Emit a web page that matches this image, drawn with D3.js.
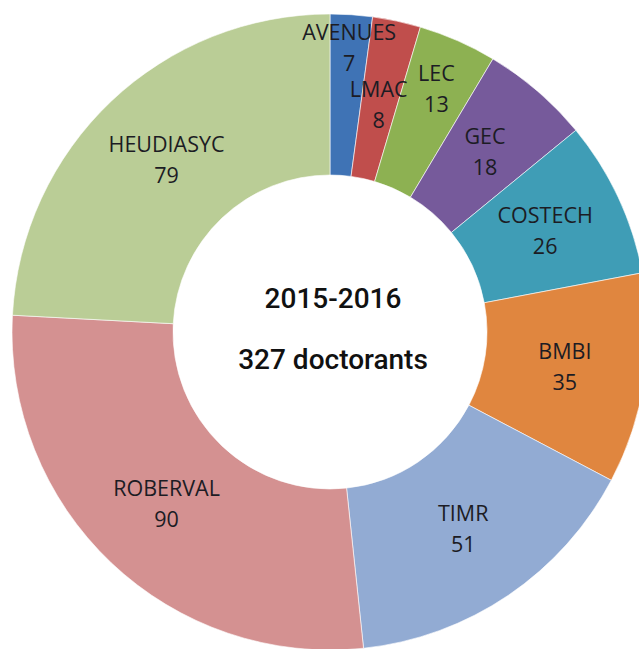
<!DOCTYPE html>
<html>
<head>
<meta charset="utf-8">
<script src="https://cdn.jsdelivr.net/npm/d3@7"></script>
<style>
  html, body { margin: 0; padding: 0; background: #fff; }
  svg { display: block; }
</style>
</head>
<body>
<div id="main"></div>
<script>
// data
const labs = ['AVENUES', 'LMAC', 'LEC', 'GEC', 'COSTECH', 'BMBI', 'TIMR', 'ROBERVAL', 'HEUDIASYC'];
const doctorants = [7, 8, 13, 18, 26, 35, 51, 90, 79];
const sliceColors = ['#3f73b5', '#c04e4c', '#8db152', '#765a9b', '#3f9db6', '#e0863f', '#92abd3', '#d49191', '#bacd96'];
const title = '2015-2016';
const subtitle = '327 doctorants';

// layout
const WIDTH = 639;
const HEIGHT = 649;
const CX = 330;
const CY = 332;
const OUTER = 318;
const INNER = 157;

// small slices get their label pushed out a bit (like excel does)
const labelRadius = { AVENUES: 285, LEC: 265, LMAC: 232 };

const svg = d3
  .select('div#main')
  .append('svg')
  .attr('width', WIDTH)
  .attr('height', HEIGHT);

const g = svg.append('g').attr('transform', `translate(${CX},${CY})`);

const records = labs.map((lab, i) => ({ lab, value: doctorants[i], color: sliceColors[i] }));

const pie = d3.pie().sort(null).value((d) => d.value);
const arc = d3.arc().innerRadius(INNER).outerRadius(OUTER);
const arcs = pie(records);

g.selectAll('.slice')
  .data(arcs)
  .enter()
  .append('path')
  .attr('class', 'slice')
  .attr('d', arc)
  .attr('fill', (d) => d.data.color)
  .attr('stroke', '#fff')
  .attr('stroke-width', 0.6);

// labels
const labelPos = (d) => {
  const r = labelRadius[d.data.lab];
  if (!r) return arc.centroid(d);
  return d3.arc().innerRadius(r).outerRadius(r).centroid(d);
};

const labels = g.selectAll('.lbl')
  .data(arcs)
  .enter()
  .append('text')
  .attr('class', 'lbl')
  .attr('transform', (d) => `translate(${labelPos(d)})`)
  .attr('text-anchor', 'middle')
  .style('font-family', '"Open Sans", sans-serif')
  .style('font-size', '21.5px')
  .style('fill', '#1c1c24');

labels.append('tspan')
  .attr('x', 0)
  .attr('y', -8)
  .text((d) => d.data.lab);

labels.append('tspan')
  .attr('x', 0)
  .attr('y', 23)
  .text((d) => d.data.value);

// centre text
g.append('text')
  .attr('x', 3)
  .attr('y', -24)
  .attr('text-anchor', 'middle')
  .style('font-family', 'Roboto, sans-serif')
  .style('font-weight', 500)
  .style('font-size', '28px')
  .style('fill', '#111')
  .text(title);

g.append('text')
  .attr('x', 3)
  .attr('y', 37)
  .attr('text-anchor', 'middle')
  .style('font-family', 'Roboto, sans-serif')
  .style('font-weight', 500)
  .style('font-size', '28px')
  .style('fill', '#111')
  .text(subtitle);
</script>
</body>
</html>
